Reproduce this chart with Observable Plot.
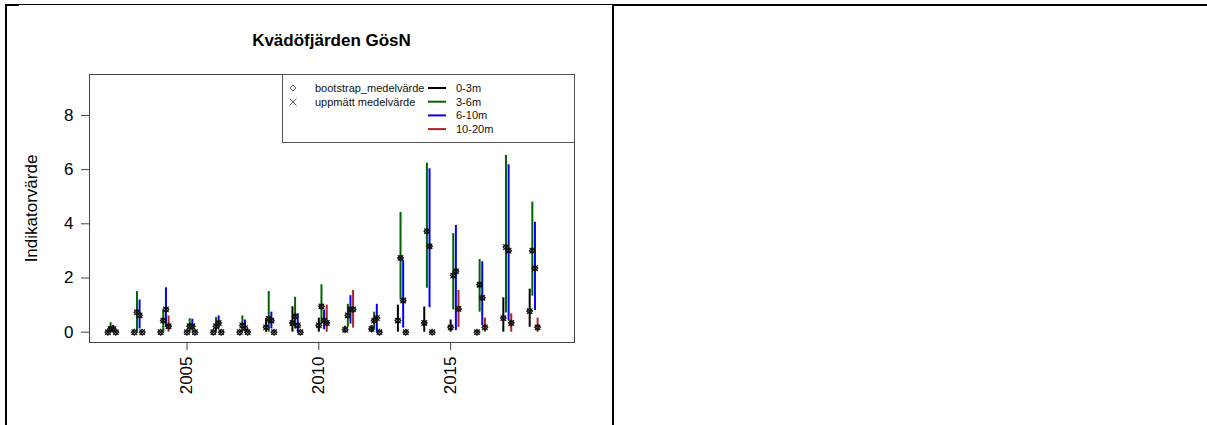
<!DOCTYPE html>
<html>
<head>
<meta charset="utf-8">
<script src="https://cdn.jsdelivr.net/npm/d3@7"></script>
<script src="https://cdn.jsdelivr.net/npm/@observablehq/plot@0.6"></script>
<style>
  html, body { margin: 0; padding: 0; background: #fff; }
  body { width: 1207px; height: 425px; position: relative; overflow: hidden;
         font-family: "Liberation Sans", Arial, sans-serif; }
  .abs { position: absolute; }
  .rule { position: absolute; background: #000; }
  #title { left: 0; width: 663px; top: 31px; text-align: center; font-weight: bold;
           font-size: 17px; line-height: 20px; color: #000; }
  #chart { left: 0; top: 60px; }
  #legend { left: 282px; top: 74px; width: 293px; height: 69px; box-sizing: border-box;
            border: 1px solid #555; background: #fff; }
  #legend span { position: absolute; font-size: 11px; line-height: 13px; color: #111; white-space: nowrap; }
</style>
</head>
<body>
<div class="rule" style="left:5px; top:4px; width:14px; height:2px;"></div>
<div class="rule" style="left:19px; top:4px; width:594px; height:1px;"></div>
<div class="rule" style="left:612px; top:4px; width:595px; height:2px;"></div>
<div class="rule" style="left:5px; top:4px; width:2px; height:421px;"></div>
<div class="rule" style="left:612px; top:4px; width:2px; height:421px;"></div>

<div id="title" class="abs">Kvädöfjärden GösN</div>
<div id="chart" class="abs"></div>
<div id="legend" class="abs"></div>

<script>
// Survey years and depth strata
const years = [2002, 2003, 2004, 2005, 2006, 2007, 2008, 2009, 2010, 2011, 2012, 2013, 2014, 2015, 2016, 2017, 2018];
const depths = ["0-3m", "3-6m", "6-10m", "10-20m"];
const depthColors = ["#000000", "#006400", "#0000ff", "#b22222"];

// 0-3m
const boot0 = [0, 0, 0, 0, 0, 0, 0.18, 0.34, 0.25, 0.09, 0.12, 0.43, 0.34, 0.18, 0, 0.52, 0.78];
const meas0 = [0, 0, 0, 0, 0, 0, 0.18, 0.34, 0.25, 0.09, 0.12, 0.43, 0.34, 0.18, 0, 0.52, 0.78];
const lo0   = [0, 0, 0, 0, 0, 0, 0, 0, 0, 0, 0, 0, 0, 0, 0, 0, 0.18];
const hi0   = [0, 0, 0, 0, 0, 0, 0.5, 0.94, 0.52, 0.22, 0.25, 1.0, 0.93, 0.45, 0, 1.27, 1.59];

// 3-6m
const boot1 = [0.12, 0.74, 0.43, 0.22, 0.22, 0.25, 0.49, 0.58, 0.95, 0.62, 0.43, 2.74, 3.73, 2.09, 1.75, 3.14, 3.01];
const meas1 = [0.12, 0.74, 0.43, 0.22, 0.22, 0.25, 0.49, 0.58, 0.95, 0.62, 0.43, 2.74, 3.73, 2.09, 1.75, 3.14, 3.01];
const lo1   = [0, 0, 0, 0, 0, 0, 0, 0.12, 0.3, 0.18, 0.12, 1.2, 1.62, 0.82, 0.74, 0.71, 1.33];
const hi1   = [0.35, 1.5, 0.8, 0.5, 0.54, 0.6, 1.5, 1.29, 1.75, 1.03, 0.74, 4.42, 6.24, 3.64, 2.68, 6.52, 4.8];

// 6-10m
const boot2 = [0.12, 0.62, 0.84, 0.22, 0.34, 0.15, 0.43, 0.25, 0.43, 0.84, 0.52, 1.17, 3.17, 2.25, 1.27, 3.01, 2.36];
const meas2 = [0.12, 0.62, 0.84, 0.22, 0.34, 0.15, 0.43, 0.25, 0.43, 0.84, 0.52, 1.17, 3.17, 2.25, 1.27, 3.01, 2.36];
const lo2   = [0, 0.12, 0.18, 0.04, 0.12, 0.04, 0.12, 0, 0.09, 0.3, 0, 0.15, 0.9, 0.06, 0.25, 0.43, 0.8];
const hi2   = [0.25, 1.19, 1.64, 0.48, 0.6, 0.45, 0.74, 0.68, 0.82, 1.35, 1.03, 2.65, 6.03, 3.94, 2.6, 6.18, 4.06];

// 10-20m
const boot3 = [0, 0, 0.22, 0, 0, 0, 0, 0, 0.34, 0.84, 0, 0, 0, 0.86, 0.18, 0.34, 0.18];
const meas3 = [0, 0, 0.22, 0, 0, 0, 0, 0, 0.34, 0.84, 0, 0, 0, 0.86, 0.18, 0.34, 0.18];
const lo3   = [0, 0, 0, 0, 0, 0, 0, 0, 0, 0.15, 0, 0, 0, 0.18, 0, 0, 0];
const hi3   = [0, 0, 0.6, 0, 0, 0, 0, 0, 1.0, 1.54, 0, 0, 0, 1.54, 0.52, 0.68, 0.52];

const yTicks = [0, 2, 4, 6, 8];
const xTicks = [2005, 2010, 2015];

const series = [
  {boot: boot0, meas: meas0, lo: lo0, hi: hi0},
  {boot: boot1, meas: meas1, lo: lo1, hi: hi1},
  {boot: boot2, meas: meas2, lo: lo2, hi: hi2},
  {boot: boot3, meas: meas3, lo: lo3, hi: hi3}
];

// Each depth is shifted a tenth of a year to the right of the previous one
const dodge = 0.1;
const rows = [];
series.forEach((s, k) => {
  years.forEach((yr, i) => {
    rows.push({
      year: yr, x: yr + k * dodge, depth: depths[k],
      boot: s.boot[i], meas: s.meas[i], lo: s.lo[i], hi: s.hi[i]
    });
  });
});

const chart = Plot.plot({
  width: 600,
  height: 360,
  marginLeft: 89,
  marginRight: 26,
  marginTop: 14,
  marginBottom: 78,
  style: {fontFamily: "'Liberation Sans', Arial, sans-serif", fontSize: "17px", color: "#000", background: "transparent"},
  x: {domain: [2001.3, 2019.7], label: null},
  y: {domain: [-0.38, 9.51], label: null},
  color: {domain: depths, range: depthColors},
  marks: [
    Plot.ruleX(rows, {x: "x", y1: "lo", y2: "hi", stroke: "depth", strokeWidth: 2}),
    Plot.dot(rows, {x: "x", y: "boot", symbol: "diamond2", r: 2.5, stroke: "#111", strokeWidth: 1.3}),
    Plot.dot(rows, {x: "x", y: "meas", symbol: "times", r: 2.6, stroke: "#111", strokeWidth: 1.2}),
    Plot.frame({stroke: "#444", strokeWidth: 1}),
    Plot.axisY({ticks: yTicks, tickSize: 8, tickPadding: 8, stroke: "#444",
                label: "Indikatorvärde", labelAnchor: "center", labelArrow: "none", labelOffset: 65}),
    Plot.axisX({ticks: xTicks, tickFormat: d => String(d), tickSize: 8, tickPadding: 6, tickRotate: -90,
                stroke: "#444", label: null})
  ]
});
document.getElementById("chart").appendChild(chart);

// Legend box in the upper right corner of the panel
const legend = document.getElementById("legend");
const L = 282, T = 74;
function put(html, x, yc) {
  const s = document.createElement("span");
  s.innerHTML = html;
  s.style.left = (x - L) + "px";
  s.style.top = (yc - T - 7) + "px";
  legend.appendChild(s);
}
const svgNS = "http://www.w3.org/2000/svg";
const lsvg = document.createElementNS(svgNS, "svg");
lsvg.setAttribute("width", 293);
lsvg.setAttribute("height", 69);
lsvg.style.position = "absolute";
lsvg.style.left = "-1px";
lsvg.style.top = "-1px";
legend.appendChild(lsvg);
function el(tag, attrs) {
  const e = document.createElementNS(svgNS, tag);
  for (const k in attrs) e.setAttribute(k, attrs[k]);
  lsvg.appendChild(e);
}
// symbol keys
el("path", {d: `M${293 - L},${88 - T - 3} l3,3 l-3,3 l-3,-3 z`, fill: "none", stroke: "#444", "stroke-width": 0.9});
el("path", {d: `M${293 - L - 3.5},${102 - T - 3.5} l7,7 M${293 - L + 3.5},${102 - T - 3.5} l-7,7`, fill: "none", stroke: "#444", "stroke-width": 0.9});
put("bootstrap_medelvärde", 314, 88);
put("uppmätt medelvärde", 314, 102);
// depth keys
depths.forEach((d, k) => {
  const yc = 88 + k * 13.7;
  el("line", {x1: 428 - L, x2: 446 - L, y1: yc - T, y2: yc - T, stroke: depthColors[k], "stroke-width": 2});
  put(d, 455, yc);
});
</script>
</body>
</html>
